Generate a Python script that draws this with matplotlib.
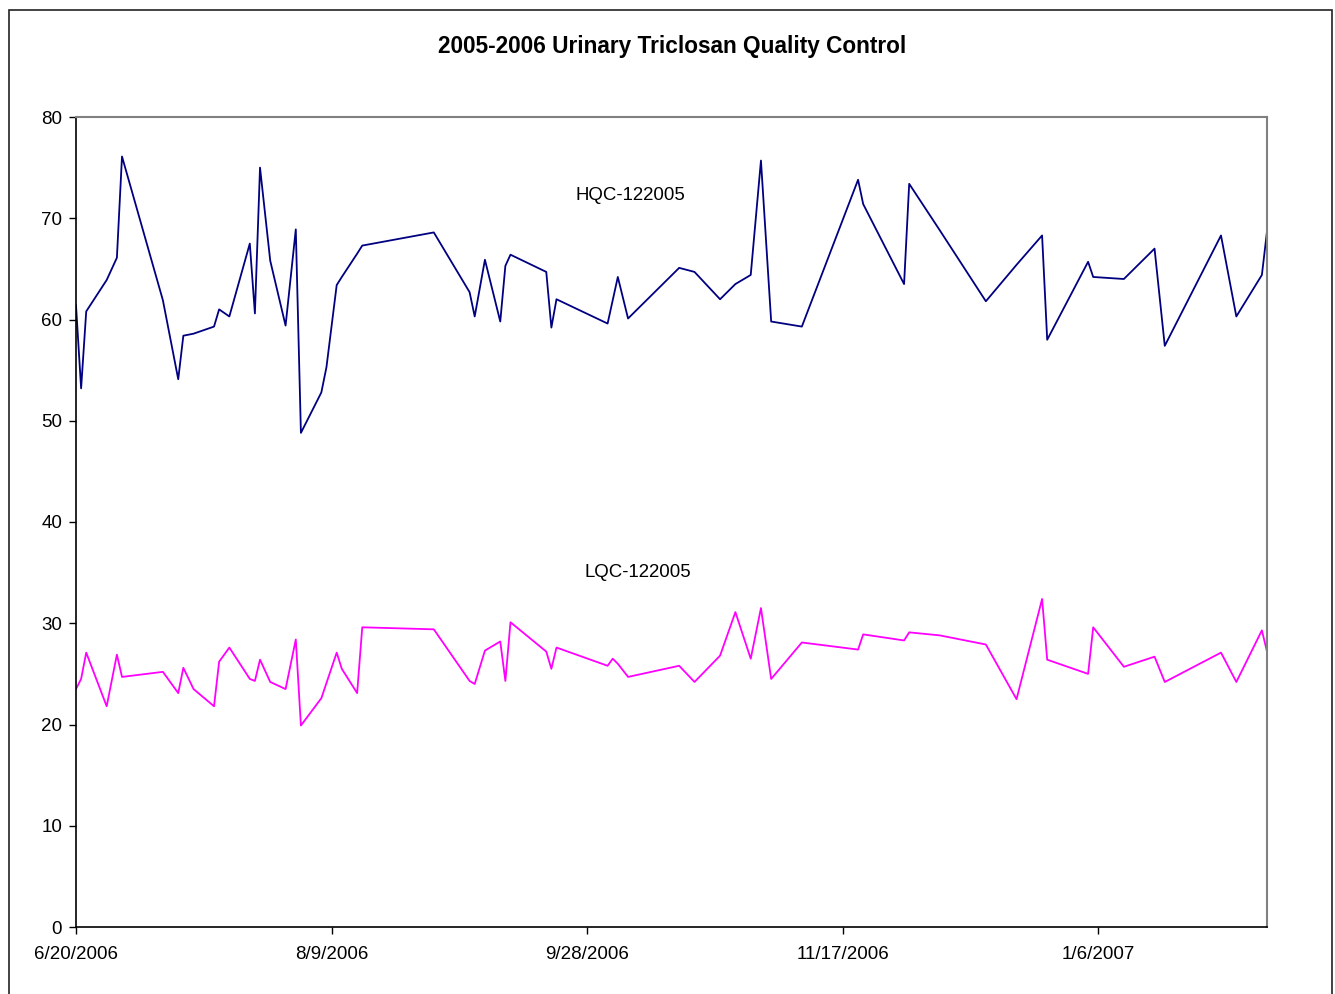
import matplotlib
matplotlib.use("Agg")
import matplotlib.pyplot as plt
from matplotlib.patches import Rectangle
import pandas as pd

# days since the first run (6/20/2006)
START = pd.Timestamp("2006-06-20")
day_offsets = [0, 1, 2, 6, 8, 9, 17, 20, 21, 23, 27, 28, 30, 34, 35, 36, 38, 41, 43, 44,
               48, 49, 51, 52, 55, 56, 70, 77, 78, 80, 83, 84, 85, 92, 93, 94, 104, 105,
               106, 108, 118, 121, 126, 129, 132, 134, 136, 142, 153, 154, 162, 163, 169,
               178, 184, 189, 190, 198, 199, 205, 211, 213, 224, 227, 232, 233]

hqc = [61.4, 53.2, 60.8, 63.9, 66.1, 76.1, 61.9, 54.1, 58.4, 58.6, 59.3, 61.0, 60.3, 67.5,
       60.6, 75.0, 65.8, 59.4, 68.9, 48.8, 52.8, 55.3, 63.4, 64.2, 66.5, 67.3, 68.6, 62.7,
       60.3, 65.9, 59.8, 65.3, 66.4, 64.7, 59.2, 62.0, 59.6, 61.9, 64.2, 60.1, 65.1, 64.7,
       62.0, 63.5, 64.4, 75.7, 59.8, 59.3, 73.8, 71.4, 63.5, 73.4, 68.8, 61.8, 65.4, 68.3,
       58.0, 65.7, 64.2, 64.0, 67.0, 57.4, 68.3, 60.3, 64.4, 68.7]

lqc = [23.5, 24.5, 27.1, 21.8, 26.9, 24.7, 25.2, 23.1, 25.6, 23.5, 21.8, 26.2, 27.6, 24.5,
       24.3, 26.4, 24.2, 23.5, 28.4, 19.9, 22.6, 24.1, 27.1, 25.5, 23.1, 29.6, 29.4, 24.3,
       24.0, 27.3, 28.2, 24.3, 30.1, 27.2, 25.5, 27.6, 25.8, 26.5, 26.0, 24.7, 25.8, 24.2,
       26.8, 31.1, 26.5, 31.5, 24.5, 28.1, 27.4, 28.9, 28.3, 29.1, 28.8, 27.9, 22.5, 32.4,
       26.4, 25.0, 29.6, 25.7, 26.7, 24.2, 27.1, 24.2, 29.3, 27.2]

y_ticks = [0, 10, 20, 30, 40, 50, 60, 70, 80]
x_tick_offsets = [0, 50, 100, 150, 200]

dates = [START + pd.Timedelta(days=d) for d in day_offsets]

plt.rcParams['font.family'] = ['Liberation Sans', 'DejaVu Sans']

fig = plt.figure(figsize=(13.35, 9.94), dpi=100)
ax = fig.add_axes([76 / 1335, 1 - 927 / 994, (1267 - 76) / 1335, (927 - 117) / 994])

ax.plot(dates, hqc, color="#000080", lw=1.3)
ax.plot(dates, lqc, color="#FF00FF", lw=1.3)

ax.set_ylim(0, 80)
ax.set_yticks(y_ticks)
ax.set_xlim(START, START + pd.Timedelta(days=233))
xt = [START + pd.Timedelta(days=d) for d in x_tick_offsets]
ax.set_xticks(xt)
ax.set_xticklabels([f"{d.month}/{d.day}/{d.year}" for d in xt])

ax.tick_params(axis="both", direction="out", length=5, width=1, labelsize=13.5, colors="black")
ax.tick_params(axis="x", pad=9)
ax.tick_params(axis="y", pad=5)

for s in ["left", "bottom"]:
    ax.spines[s].set_color("black")
    ax.spines[s].set_linewidth(1.2)
for s in ["top", "right"]:
    ax.spines[s].set_color("#808080")
    ax.spines[s].set_linewidth(1.5)

ax.text(START + pd.Timedelta(days=108.5), 72.2, "HQC-122005", fontsize=13.4, ha="center", va="center")
ax.text(START + pd.Timedelta(days=110), 35.0, "LQC-122005", fontsize=13.4, ha="center", va="center")

fig.text(672 / 1335, 1 - 47 / 994, "2005-2006 Urinary Triclosan Quality Control",
         fontsize=16.3, fontweight="bold", ha="center", va="center")

# outer chart border
fig.patches.append(Rectangle((8.5 / 1335, -0.02), (1332 - 8.5) / 1335, 1.02 - 10 / 994,
                             transform=fig.transFigure, fill=False, edgecolor="#222222",
                             lw=1.2, clip_on=False))

fig.savefig("out.png", dpi=100)
